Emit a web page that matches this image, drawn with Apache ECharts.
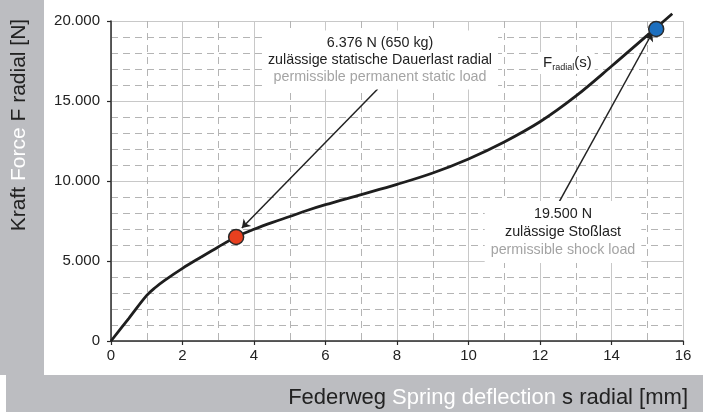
<!DOCTYPE html>
<html>
<head>
<meta charset="utf-8">
<script src="https://cdn.jsdelivr.net/npm/echarts@6/dist/echarts.min.js"></script>
<style>html,body{margin:0;padding:0;background:#bcbdc1;}#c{width:703px;height:412px;}</style>
</head>
<body>
<div id="c"></div>
<script>
// Spring deflection s [mm]
const deflection = [0, 0.5, 1.0, 1.25, 1.5, 2.0, 2.5, 3.0, 3.5, 4.0, 4.5, 5.0, 5.5, 6.0, 7.0, 8.0, 9.0, 10.0, 11.0, 12.0, 13.0, 14.0, 15.0, 15.7];
// Radial force F [N]
const force = [0, 1420, 2850, 3360, 3790, 4540, 5220, 5880, 6500, 6980, 7400, 7780, 8170, 8520, 9150, 9790, 10500, 11380, 12440, 13700, 15300, 17170, 19100, 20450];
// Highlighted load points
const staticPoint = [3.5, 6500];
const shockPoint = [15.25, 19500];
// Annotation arrows [from, to]
const arrowStatic = [[7.46, 15750], [3.66, 7060]];
const arrowShock = [[12.54, 8706], [15.14, 19250]];
// Axis ticks
const xTicks = {min: 0, max: 16, interval: 2};
const yTicks = {min: 0, max: 20000, interval: 5000};

const fmtThousands = v => String(v).replace(/\B(?=(\d{3})+(?!\d))/g, '.');
const FONT = 'Liberation Sans, Arial, sans-serif';

const chart = echarts.init(document.getElementById('c'));
chart.setOption({
  backgroundColor: '#bcbdc1',
  animation: false,
  grid: {left: 111, right: 20, top: 21, bottom: 71, outerBoundsMode: 'none'},
  xAxis: {
    type: 'value', min: xTicks.min, max: xTicks.max, interval: xTicks.interval,
    axisLine: {show: true, onZero: false, lineStyle: {color: '#2a2a2a', width: 1.5}},
    axisTick: {show: true, length: 4, lineStyle: {color: '#2a2a2a', width: 1.2}},
    axisLabel: {color: '#222', fontSize: 15, fontFamily: FONT, margin: 7},
    splitLine: {show: true, lineStyle: {color: '#c8c8c8', width: 1}},
    minorTick: {show: false, splitNumber: 2},
    minorSplitLine: {show: true, lineStyle: {color: '#b4b4b4', width: 1, type: [7, 5]}}
  },
  yAxis: {
    type: 'value', min: yTicks.min, max: yTicks.max, interval: yTicks.interval,
    axisLine: {show: true, onZero: false, lineStyle: {color: '#2a2a2a', width: 1.5}},
    axisTick: {show: true, length: 4, lineStyle: {color: '#2a2a2a', width: 1.2}},
    axisLabel: {color: '#222', fontSize: 15, fontFamily: FONT, margin: 11, formatter: fmtThousands},
    splitLine: {show: true, lineStyle: {color: '#c8c8c8', width: 1}},
    minorTick: {show: false, splitNumber: 5},
    minorSplitLine: {show: true, lineStyle: {color: '#b4b4b4', width: 1, type: [7, 5]}}
  },
  graphic: [
    {type: 'rect', z: -100, shape: {x: 44, y: 0, width: 659, height: 375}, style: {fill: '#fff'}},
    {type: 'rect', z: -100, shape: {x: 0, y: 375, width: 6, height: 37}, style: {fill: '#fff'}},
    {type: 'text', z: 10, x: 19, y: 125, rotation: Math.PI / 2,
      style: {text: '{d|Kraft }{w|Force}{d| F radial [N]}', align: 'center', verticalAlign: 'middle',
        rich: {d: {fontSize: 21, fontFamily: FONT, fill: '#222'}, w: {fontSize: 21, fontFamily: FONT, fill: '#fff'}}}},
    {type: 'text', z: 10, x: 688, y: 398,
      style: {text: '{d|Federweg }{w|Spring deflection}{d| s radial [mm]}', align: 'right', verticalAlign: 'middle',
        rich: {d: {fontSize: 22, fontFamily: FONT, fill: '#222'}, w: {fontSize: 22, fontFamily: FONT, fill: '#fff'}}}},
    {type: 'text', z: 5, x: 380, y: 60,
      style: {text: '{a|6.376 N (650 kg)}\n{a|zulässige statische Dauerlast radial}\n{g|permissible permanent static load}',
        align: 'center', verticalAlign: 'middle', backgroundColor: '#fff', padding: [4, 6, 4, 6],
        rich: {a: {fontSize: 14.3, fontFamily: FONT, fill: '#222', lineHeight: 17}, g: {fontSize: 14.3, fontFamily: FONT, fill: '#a4a4a4', lineHeight: 17}}}},
    {type: 'text', z: 5, x: 563, y: 232,
      style: {text: '{a|19.500 N}\n{a|zulässige Stoßlast}\n{g|permissible shock load}',
        align: 'center', verticalAlign: 'middle', backgroundColor: '#fff', padding: [4, 6, 4, 6],
        rich: {a: {fontSize: 14.3, fontFamily: FONT, fill: '#222', lineHeight: 18}, g: {fontSize: 14.3, fontFamily: FONT, fill: '#a4a4a4', lineHeight: 18}}}},
    {type: 'text', z: 5, x: 540, y: 63,
      style: {text: '{a|F}{b|radial}{a|(s)}', align: 'left', verticalAlign: 'middle', backgroundColor: '#fff', padding: [2, 3, 2, 3],
        rich: {a: {fontSize: 15, fontFamily: FONT, fill: '#222', lineHeight: 18}, b: {fontSize: 9, fontFamily: FONT, fill: '#222', lineHeight: 18, padding: [9, 0, 0, 0]}}}}
  ],
  series: [
    {type: 'line', data: deflection.map((s, i) => [s, force[i]]), smooth: 0.35, symbol: 'none', clip: false,
      lineStyle: {color: '#1e1e1e', width: 2.8}, z: 3},
    {type: 'lines', coordinateSystem: 'cartesian2d', z: 4, symbol: ['none', 'arrow'], symbolSize: 8,
      lineStyle: {color: '#222', width: 1.5, opacity: 1},
      data: [{coords: arrowStatic}, {coords: arrowShock}]},
    {type: 'scatter', z: 6, symbolSize: 15, data: [{value: staticPoint, itemStyle: {color: '#e8401f'}}, {value: shockPoint, itemStyle: {color: '#1c6fbf'}}],
      itemStyle: {borderColor: '#2a2a2a', borderWidth: 1.5, opacity: 1}}
  ]
});
</script>
</body>
</html>
